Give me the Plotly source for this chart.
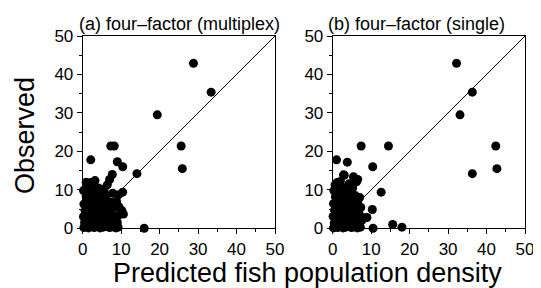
import plotly.graph_objects as go

# Panel (a) four-factor (multiplex): predicted (x) vs observed (y)
pred_a = [28.8, 33.4, 19.4, 25.6, 25.9, 7.3, 8.2, 2.1, 9.0, 10.4, 14.1, 7.7, 7.0, 2.1, 10.4, 16.0, 10.6,
          0.3, 0.8, 1.5, 2.2, 3.0, 3.8, 4.5, 5.3, 6.1, 7.0, 7.8, 8.6, 9.2,
          0.5, 1.2, 2.0, 2.9, 3.6, 4.4, 5.1, 5.9, 6.8, 7.5, 8.3, 9.0,
          0.2, 1.0, 1.8, 2.6, 3.4, 4.2, 5.0, 5.8, 6.6, 7.3, 8.1, 9.3,
          0.6, 1.4, 2.3, 3.1, 3.9, 4.8, 5.6, 6.4, 7.2, 8.0, 9.4, 10.2,
          0.3, 1.1, 2.0, 2.8, 3.7, 4.6, 5.5, 6.3, 7.1, 8.0, 8.8,
          0.9, 1.7, 2.5, 3.3, 4.4, 5.2, 6.0, 7.8, 9.3,
          0.2, 1.3, 2.8, 1.8, 4.1, 5.6, 0.9, 3.2, 6.4]
obs_a = [42.9, 35.4, 29.5, 21.4, 15.5, 21.4, 21.4, 17.8, 17.3, 16.0, 14.2, 14.0, 12.7, 11.9, 9.4, 0.0, 3.7,
         0.2, 0.5, 0.1, 0.4, 0.2, 0.6, 0.1, 0.3, 0.5, 0.2, 0.4, 0.1, 0.3,
         1.5, 1.9, 1.2, 1.7, 1.3, 2.0, 1.4, 1.8, 1.1, 1.6, 2.1, 1.5,
         3.0, 3.4, 2.8, 3.5, 2.9, 3.6, 3.1, 3.4, 2.7, 3.3, 3.0, 3.4,
         4.6, 5.0, 4.4, 5.2, 4.7, 5.1, 4.5, 5.0, 4.6, 5.3, 5.6, 4.6,
         6.3, 6.8, 6.1, 6.9, 6.4, 7.0, 6.6, 7.2, 6.8, 6.5, 7.0,
         8.3, 8.8, 8.1, 9.0, 8.5, 9.2, 8.7, 9.1, 8.7,
         9.8, 10.3, 10.7, 11.2, 10.5, 10.2, 12.0, 12.4, 11.3]

# Panel (b) four-factor (single)
pred_b = [32.2, 36.3, 33.1, 42.4, 42.7, 36.3, 7.4, 14.5, 1.0, 3.8, 10.4, 3.0, 6.5, 1.2, 12.6, 10.3, 8.9, 10.5, 15.6, 18.0, 5.4, 2.8,
          0.2, 0.7, 1.3, 2.0, 2.7, 3.4, 4.1, 4.9, 5.6, 6.4, 7.2,
          0.4, 1.1, 1.8, 2.5, 3.2, 3.9, 4.6, 5.3, 6.1, 6.9, 7.6,
          0.1, 0.9, 1.6, 2.3, 3.0, 3.7, 4.4, 5.2, 6.0, 6.8, 7.5,
          0.5, 1.2, 1.9, 2.7, 3.5, 4.3, 5.0, 5.8, 6.6, 7.3,
          0.2, 1.0, 1.7, 2.5, 3.3, 4.1, 4.9, 5.7, 6.5,
          0.7, 1.5, 2.3, 3.1, 4.0, 4.8, 5.9, 7.0,
          0.3, 1.4, 2.6, 3.8, 5.2, 4.3, 0.6, 2.0, 6.2]
obs_b = [42.9, 35.4, 29.5, 21.4, 15.5, 14.2, 21.4, 21.4, 17.8, 17.2, 16.0, 13.8, 12.7, 11.9, 9.4, 4.9, 2.8, 0.0, 1.0, 0.3, 13.4, 13.9,
         0.1, 0.4, 0.2, 0.5, 0.1, 0.3, 0.6, 0.2, 0.4, 0.1, 0.3,
         1.4, 1.9, 1.2, 1.7, 1.3, 2.0, 1.5, 1.8, 1.2, 1.6, 2.1,
         3.1, 3.5, 2.9, 3.6, 3.0, 3.4, 2.8, 3.5, 3.1, 3.6, 3.0,
         4.7, 5.2, 4.5, 5.0, 4.6, 5.3, 4.8, 5.1, 4.5, 5.4,
         6.4, 6.9, 6.2, 7.0, 6.5, 7.1, 6.6, 7.2, 6.8,
         8.2, 8.8, 8.3, 9.0, 8.6, 9.3, 8.5, 8.0,
         9.8, 10.2, 10.6, 10.1, 10.5, 11.6, 11.3, 12.2, 12.1]

one_to_one = [0, 50]
tick_vals = [0, 10, 20, 30, 40, 50]
titles = ["(a) four\u2013factor (multiplex)", "(b) four\u2013factor (single)"]

FONT = "Liberation Sans, Arial, sans-serif"
OFF = 8  # default page body margin
W, H = 541 - OFF, 288 - OFF


def fx(px):
    return (px - OFF) / W


def fy(py):
    return 1 - (py - OFF) / H


x_doms = [[fx(82.7), fx(275.0)], [fx(332.7), fx(525.0)]]
y_dom = [fy(228.3), fy(36.0)]

fig = go.Figure()
for i, (px, oy) in enumerate([(pred_a, obs_a), (pred_b, obs_b)]):
    xa = "x" if i == 0 else "x2"
    ya = "y" if i == 0 else "y2"
    fig.add_trace(go.Scatter(x=one_to_one, y=one_to_one, mode="lines",
                             line=dict(color="black", width=1), xaxis=xa, yaxis=ya,
                             showlegend=False, hoverinfo="skip"))
    fig.add_trace(go.Scatter(x=px, y=oy, mode="markers",
                             marker=dict(color="black", size=9, line=dict(width=0)),
                             cliponaxis=False, xaxis=xa, yaxis=ya, showlegend=False))

axis_common = dict(range=[0, 50], tickvals=tick_vals, ticks="outside", ticklen=5, tickwidth=1,
                   tickcolor="black", showline=True, linecolor="black", linewidth=1, mirror=True,
                   showgrid=False, zeroline=False, automargin=False,
                   tickfont=dict(family=FONT, size=17, color="black"),
                   minor=dict(dtick=5, ticks="outside", ticklen=3, tickcolor="black", showgrid=False))

fig.update_layout(
    width=W, height=H, margin=dict(l=0, r=0, t=0, b=0, autoexpand=False),
    paper_bgcolor="white", plot_bgcolor="white",
    xaxis=dict(domain=x_doms[0], anchor="y", **axis_common),
    yaxis=dict(domain=y_dom, anchor="x", **axis_common),
    xaxis2=dict(domain=x_doms[1], anchor="y2", **axis_common),
    yaxis2=dict(domain=y_dom, anchor="x2", **axis_common),
    annotations=[
        dict(text=titles[0], x=fx(76.5), y=fy(23.5), xref="paper", yref="paper",
             xanchor="left", yanchor="middle", showarrow=False,
             font=dict(family=FONT, size=18, color="black")),
        dict(text=titles[1], x=fx(326), y=fy(23.5), xref="paper", yref="paper",
             xanchor="left", yanchor="middle", showarrow=False,
             font=dict(family=FONT, size=18, color="black")),
        dict(text="Observed", x=fx(25), y=fy(136), xref="paper", yref="paper",
             xanchor="center", yanchor="middle", textangle=-90, showarrow=False,
             font=dict(family=FONT, size=27, color="black")),
        dict(text="Predicted fish population density", x=fx(307.5), y=fy(273),
             xref="paper", yref="paper", xanchor="center", yanchor="middle", showarrow=False,
             font=dict(family=FONT, size=27, color="black")),
    ],
)

fig.write_html("out.html")
